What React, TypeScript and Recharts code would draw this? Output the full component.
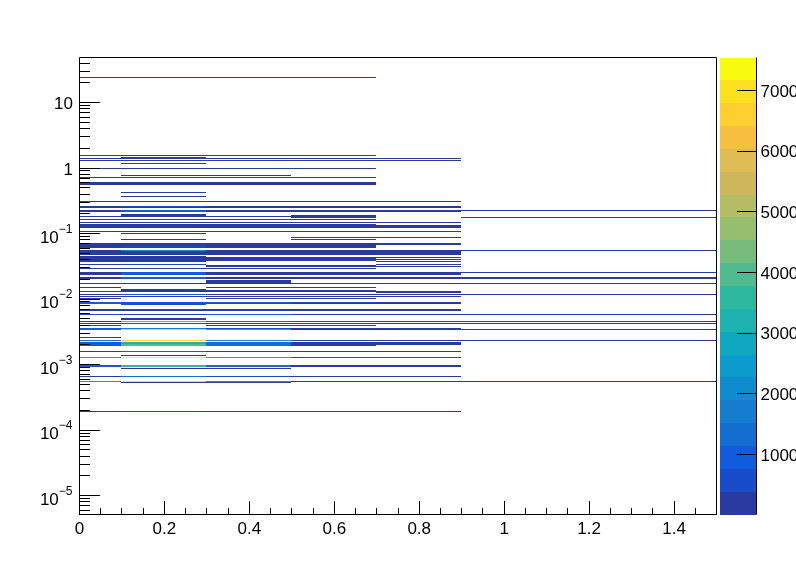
import { ComposedChart, XAxis, YAxis, ReferenceArea } from 'recharts'

const FONT = '"Liberation Sans", Arial, sans-serif'
const WIDTH = 796
const HEIGHT = 572
const LEFT = 79.5
const RIGHT = 716.5
const BOTTOM = 514.5
const PAL_RIGHT = 756.5

// x bins (variable width)
const xEdges = [0, 0.1, 0.3, 0.5, 0.7, 0.9, 1.5]
const xTicks = [0, 0.05, 0.1, 0.15, 0.2, 0.25, 0.3, 0.35, 0.4, 0.45, 0.5, 0.55, 0.6, 0.65, 0.7, 0.75, 0.8, 0.85, 0.9, 0.95, 1, 1.05, 1.1, 1.15, 1.2, 1.25, 1.3, 1.35, 1.4, 1.45, 1.5]

// log10 of the y range and of each narrow y bin [high, low], top to bottom
const yRange = [-5.29, 1.687]
const yBins = [
  [1.389, 1.374], [0.198, 0.183], [0.168, 0.153], [0.153, 0.137], [0.122, 0.107], [0.076, 0.061],
  [0, -0.015], [-0.107, -0.122], [-0.137, -0.153], [-0.214, -0.26], [-0.366, -0.382], [-0.427, -0.443],
  [-0.504, -0.519], [-0.58, -0.595], [-0.595, -0.611], [-0.641, -0.656], [-0.656, -0.672], [-0.702, -0.718],
  [-0.718, -0.733], [-0.733, -0.748], [-0.748, -0.763], [-0.779, -0.794], [-0.824, -0.84], [-0.855, -0.87],
  [-0.87, -0.916], [-0.962, -0.977], [-0.992, -1.008], [-1.053, -1.069], [-1.084, -1.099], [-1.145, -1.176],
  [-1.176, -1.191], [-1.191, -1.206], [-1.206, -1.221], [-1.252, -1.267], [-1.267, -1.328], [-1.344, -1.359],
  [-1.359, -1.374], [-1.374, -1.389], [-1.389, -1.405], [-1.405, -1.42], [-1.42, -1.435], [-1.466, -1.481],
  [-1.481, -1.496], [-1.496, -1.511], [-1.527, -1.542], [-1.588, -1.603], [-1.603, -1.634], [-1.664, -1.695],
  [-1.71, -1.756], [-1.756, -1.771], [-1.817, -1.832], [-1.847, -1.863], [-1.863, -1.878], [-1.878, -1.893],
  [-1.893, -1.908], [-1.924, -1.939], [-1.954, -1.969], [-1.985, -2], [-2.046, -2.061], [-2.061, -2.076],
  [-2.076, -2.092], [-2.153, -2.168], [-2.168, -2.183], [-2.229, -2.244], [-2.29, -2.321], [-2.336, -2.351],
  [-2.366, -2.382], [-2.397, -2.412], [-2.443, -2.458], [-2.458, -2.473], [-2.58, -2.595], [-2.626, -2.641],
  [-2.656, -2.687], [-2.687, -2.702], [-2.702, -2.718], [-2.794, -2.809], [-2.855, -2.87], [-2.885, -2.901],
  [-3.008, -3.038], [-3.053, -3.069], [-3.176, -3.191], [-3.252, -3.267], [-3.267, -3.282], [-3.71, -3.725],
]

// counts per x bin for each y bin above, 0 = empty
const binCounts = [
  [100, 100, 100, 100, 0, 0], [100, 100, 100, 100, 0, 0], [0, 200, 0, 0, 0, 0], [100, 200, 100, 100, 100, 0], [100, 100, 100, 100, 100, 0], [0, 100, 0, 0, 0, 0],
  [100, 100, 100, 100, 0, 0], [0, 100, 100, 0, 0, 0], [100, 100, 100, 100, 0, 0], [150, 150, 150, 150, 0, 0], [0, 100, 0, 0, 0, 0], [0, 100, 0, 0, 0, 0],
  [100, 100, 100, 100, 100, 0], [200, 600, 300, 200, 200, 0], [200, 300, 200, 200, 200, 0], [200, 900, 200, 200, 200, 100], [200, 800, 200, 200, 200, 0], [0, 300, 0, 0, 0, 0],
  [0, 300, 0, 200, 0, 0], [100, 300, 100, 200, 0, 0], [0, 0, 0, 200, 0, 100], [100, 100, 100, 100, 0, 0], [100, 100, 100, 100, 100, 0], [200, 200, 200, 200, 0, 0],
  [200, 200, 200, 200, 200, 0], [100, 100, 100, 100, 100, 0], [0, 100, 0, 0, 0, 0], [0, 0, 0, 100, 100, 0], [0, 100, 0, 100, 0, 0], [200, 300, 200, 200, 200, 0],
  [200, 300, 200, 200, 0, 0], [200, 600, 200, 200, 0, 0], [200, 300, 200, 200, 0, 0], [300, 2200, 300, 300, 300, 100], [250, 350, 250, 250, 250, 0], [200, 300, 0, 0, 0, 0],
  [200, 300, 200, 200, 100, 0], [200, 300, 200, 200, 0, 0], [200, 300, 200, 200, 100, 0], [200, 300, 200, 200, 0, 0], [200, 300, 0, 0, 100, 0], [100, 500, 0, 0, 100, 0],
  [0, 0, 100, 100, 0, 0], [0, 0, 100, 100, 100, 0], [100, 100, 100, 100, 0, 0], [200, 800, 200, 200, 200, 100], [200, 800, 200, 200, 200, 0], [200, 900, 200, 200, 200, 100],
  [0, 0, 200, 0, 0, 0], [100, 200, 100, 100, 100, 100], [100, 0, 100, 100, 0, 0], [0, 200, 0, 0, 0, 0], [0, 200, 200, 200, 0, 0], [100, 200, 100, 100, 100, 0],
  [0, 0, 0, 0, 100, 0], [300, 1000, 300, 300, 300, 100], [200, 300, 200, 200, 100, 0], [100, 0, 100, 100, 0, 0], [900, 1000, 800, 400, 300, 0], [800, 600, 500, 300, 300, 0],
  [0, 400, 0, 0, 0, 0], [200, 400, 300, 200, 200, 0], [200, 300, 200, 200, 200, 0], [400, 500, 800, 300, 200, 100], [0, 300, 0, 0, 0, 0], [300, 3800, 800, 400, 300, 100],
  [100, 400, 100, 100, 100, 100], [100, 0, 100, 100, 0, 0], [900, 1600, 500, 200, 200, 0], [1000, 7000, 2800, 300, 200, 100], [200, 0, 0, 0, 0, 0], [1600, 6500, 2200, 400, 300, 100],
  [900, 3400, 1300, 200, 200, 0], [900, 4000, 1300, 200, 200, 0], [900, 3800, 1300, 200, 0, 0], [300, 1000, 300, 200, 200, 0], [0, 300, 0, 0, 0, 0], [2900, 7400, 2800, 500, 500, 0],
  [1000, 3600, 1300, 300, 300, 0], [0, 200, 200, 0, 0, 0], [300, 1200, 400, 200, 200, 0], [2400, 6800, 2600, 300, 300, 100], [0, 200, 200, 0, 0, 0], [200, 700, 300, 200, 200, 0],
]

// colour scale: 20 contour levels, bottom to top
const zRange = [11, 7544]
const zTicks = [1000, 2000, 3000, 4000, 5000, 6000, 7000]
const palette = [
  '#293aa0', '#184cc8', '#105cdc', '#146ed2', '#147dcd', '#0f8ccd', '#0c9bcd', '#0fa8be', '#1eb2af', '#2fb8a0',
  '#50ba91', '#78bc7d', '#96be6e', '#b4bc64', '#cdb75a', '#e0bc55', '#f5c040', '#fdcf2f', '#fae01f', '#f9fb0e',
]

const yMajors = [-5, -4, -3, -2, -1, 0, 1]
const yMantissas = [1, 2, 3, 4, 5, 6, 7, 8, 9]

const yTicks: number[] = []
;[-6, ...yMajors].forEach((e) => {
  yMantissas.forEach((m) => {
    const v = Number(`${m}e${e}`)
    if (v > 10 ** yRange[0] && v < 10 ** yRange[1]) yTicks.push(v)
  })
})

const levelOf = (v: number) => {
  const i = Math.floor(((v - zRange[0]) / (zRange[1] - zRange[0])) * palette.length)
  return Math.max(0, Math.min(palette.length - 1, i))
}

const levelEdge = (i: number) => zRange[0] + (i * (zRange[1] - zRange[0])) / palette.length

const xData = xEdges.map((x) => ({ x }))

// snap cells to whole pixels so the thin bins stay solid
function CellRect(p: any) {
  const x0 = Math.floor(p.x)
  const x1 = Math.floor(p.x + p.width)
  const y0 = Math.round(p.y)
  const h = Math.max(1, Math.round(p.y + p.height) - y0)
  return <rect x={x0} y={y0} width={x1 - x0} height={h} fill={p.fill} shapeRendering="crispEdges" />
}

function XTick({ x, payload }: any) {
  const v = payload.value
  const major = Math.round(v * 100) % 20 === 0
  return (
    <g>
      <line x1={x} x2={x} y1={BOTTOM} y2={BOTTOM - (major ? 13.5 : 7)} stroke="#000" shapeRendering="crispEdges" />
      {major && v < 1.5 && (
        <text x={x} y={BOTTOM + 19} textAnchor="middle" fontSize={17} fontFamily={FONT} fill="#000">
          {String(Number(v.toFixed(1)))}
        </text>
      )}
    </g>
  )
}

function YTick({ y, payload }: any) {
  const v = payload.value
  const exp = Math.log10(v)
  const major = Math.abs(exp - Math.round(exp)) < 1e-6
  const e = Math.round(exp)
  return (
    <g>
      <line x1={LEFT} x2={LEFT + (major ? 20 : 10.5)} y1={y} y2={y} stroke="#000" shapeRendering="crispEdges" />
      {major && e >= 0 && (
        <text x={73} y={y + 7} textAnchor="end" fontSize={17} fontFamily={FONT} fill="#000">
          {e === 1 ? '10' : '1'}
        </text>
      )}
      {major && e < 0 && (
        <text x={72.5} y={y + 9} textAnchor="end" fontSize={17} fontFamily={FONT} fill="#000">
          <tspan>10</tspan>
          <tspan fontSize={12} dy={-10}>{`\u2212${-e}`}</tspan>
        </text>
      )}
    </g>
  )
}

function ZTick({ y, payload }: any) {
  return (
    <g>
      <line x1={PAL_RIGHT - 20} x2={PAL_RIGHT} y1={y} y2={y} stroke="#000" shapeRendering="crispEdges" />
      <text x={PAL_RIGHT + 4} y={y + 6} fontSize={17} fontFamily={FONT} fill="#000">
        {payload.value}
      </text>
    </g>
  )
}

export default function App() {
  const yDomain = [10 ** yRange[0], 10 ** yRange[1]]
  return (
    <div style={{ position: 'absolute', left: 0, top: 0, width: WIDTH, height: HEIGHT, overflow: 'hidden' }}>
      <div style={{ position: 'absolute', left: 0, top: 0, willChange: 'transform' }}>
        <ComposedChart width={WIDTH} height={HEIGHT} data={xData} margin={{ top: 57.5, right: WIDTH - RIGHT, bottom: 0, left: 0 }}>
          <XAxis
            type="number"
            dataKey="x"
            domain={[0, 1.5]}
            ticks={xTicks}
            interval={0}
            height={HEIGHT - BOTTOM}
            axisLine={false}
            tickLine={false}
            tick={<XTick />}
          />
          <YAxis
            type="number"
            scale="log"
            domain={yDomain}
            ticks={yTicks}
            interval={0}
            width={LEFT}
            allowDataOverflow
            axisLine={false}
            tickLine={false}
            tick={<YTick />}
          />
          {binCounts.map((row, r) =>
            row.map((count, c) =>
              count > 0 ? (
                <ReferenceArea
                  key={`${r}-${c}`}
                  x1={xEdges[c]}
                  x2={xEdges[c + 1]}
                  y1={10 ** yBins[r][1]}
                  y2={10 ** yBins[r][0]}
                  fill={palette[levelOf(count)]}
                  shape={<CellRect />}
                />
              ) : null,
            ),
          )}
          <ReferenceArea x1={0} x2={1.5} y1={yDomain[0]} y2={yDomain[1]} fill="none" fillOpacity={0} stroke="#000" strokeWidth={1} />
        </ComposedChart>
      </div>
      <div style={{ position: 'absolute', left: 0, top: 0, willChange: 'transform' }}>
        <ComposedChart width={WIDTH} height={HEIGHT} data={[{ x: 0 }, { x: 1 }]} margin={{ top: 57.5, right: 0, bottom: HEIGHT - BOTTOM, left: 720 }}>
          <XAxis type="number" dataKey="x" domain={[0, 1]} hide />
          <YAxis
            type="number"
            orientation="right"
            domain={zRange}
            ticks={zTicks}
            interval={0}
            width={WIDTH - PAL_RIGHT}
            allowDataOverflow
            axisLine={{ stroke: '#000' }}
            tickLine={false}
            tick={<ZTick />}
          />
          {palette.map((color, i) => (
            <ReferenceArea key={color} x1={0} x2={1} y1={levelEdge(i)} y2={levelEdge(i + 1)} fill={color} shape={<CellRect />} />
          ))}
        </ComposedChart>
      </div>
    </div>
  )
}
